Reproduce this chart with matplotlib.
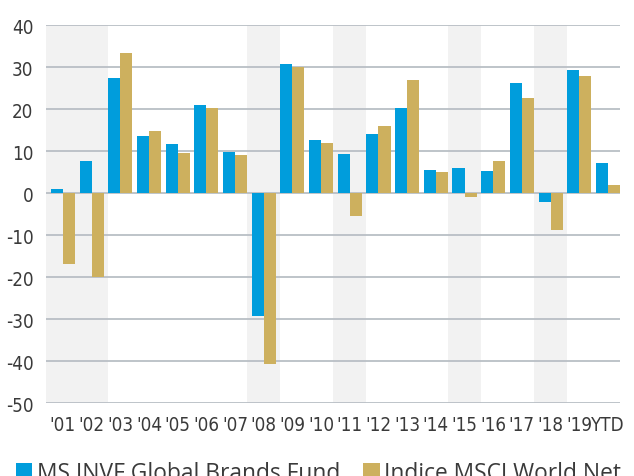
import matplotlib
matplotlib.use("Agg")
import matplotlib.pyplot as plt
import numpy as np

# Annual returns (%)
years = ["'01", "'02", "'03", "'04", "'05", "'06", "'07", "'08", "'09", "'10",
         "'11", "'12", "'13", "'14", "'15", "'16", "'17", "'18", "'19", "YTD"]
fund = [1.0, 7.6, 27.4, 13.6, 11.7, 21.0, 9.8, -29.2, 30.7, 12.6,
        9.3, 14.0, 20.2, 5.5, 6.0, 5.2, 26.2, -2.1, 29.3, 7.1]
index = [-16.8, -19.9, 33.3, 14.8, 9.5, 20.2, 9.0, -40.7, 30.1, 11.9,
         -5.4, 16.0, 26.9, 5.0, -0.95, 7.6, 22.6, -8.8, 27.9, 1.9]
shaded = [(0, 1), (7, 7), (10, 10), (14, 14), (17, 17)]
yticks = [40, 30, 20, 10, 0, -10, -20, -30, -40, -50]

fund_label = "MS INVF Global Brands Fund"
index_label = "Indice MSCI World Net"

BLUE = "#009ddc"
GOLD = "#cdb05e"
BAND = "#f2f2f2"
GRID = "#b9bfc5"
TEXT = "#3a3a3a"

tick_font = dict(family=["DejaVu Sans"], fontstretch="condensed", fontsize=13.5, color=TEXT)
legend_font = ["Open Sans", "DejaVu Sans"]

fig = plt.figure(figsize=(6.34, 4.77), dpi=100)
ax = fig.add_axes([46 / 634, 1 - 404 / 477, 574 / 634, 378 / 477])

x = np.arange(len(years))
w = 0.42

for a, b in shaded:
    ax.axvspan(a - 0.58, b + 0.56, color=BAND, lw=0, zorder=0)

for t in yticks:
    ax.axhline(t, color=GRID, lw=1.3, zorder=1)

ax.bar(x - w / 2, fund, width=w, color=BLUE, zorder=2, label=fund_label)
ax.bar(x + w / 2, index, width=w, color=GOLD, zorder=2, label=index_label)

ax.set_xlim(-0.59, len(years) - 1 + 0.42)
ax.set_ylim(-50, 40)
ax.set_yticks(yticks)
ax.set_yticklabels([str(t) for t in yticks], **tick_font)
ax.set_xticks(x)
ax.set_xticklabels(years, **tick_font)
ax.tick_params(axis="both", length=0)
ax.tick_params(axis="y", pad=9)
ax.tick_params(axis="x", pad=8.5)
for s in ax.spines.values():
    s.set_visible(False)

leg = fig.legend(loc="center left", bbox_to_anchor=(16 / 634, 1 - 474 / 477),
                 bbox_transform=fig.transFigure, ncol=2, frameon=False,
                 prop={"family": legend_font, "size": 16.4},
                 handlelength=0.72, handleheight=0.72, handletextpad=0.2,
                 columnspacing=1.0, borderpad=0, borderaxespad=0)
for t in leg.get_texts():
    t.set_color(TEXT)

fig.savefig("out.png", dpi=100)
